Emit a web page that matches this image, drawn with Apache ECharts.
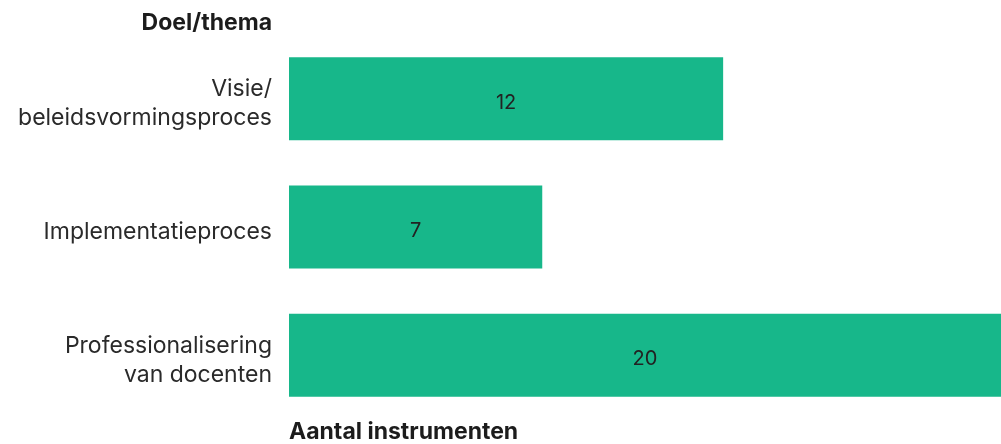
<!DOCTYPE html>
<html><head><meta charset="utf-8">
<script src="https://cdn.jsdelivr.net/npm/echarts@6/dist/echarts.min.js"></script>
<style>html,body{margin:0;padding:0;background:#fff}#c{width:1001px;height:444px}</style>
</head><body><div id="c"></div>
<script>
const categories = ["Visie/\nbeleidsvormingsproces", "Implementatieproces", "Professionalisering\nvan docenten"];
const values = [12, 7, 20];
const yTitle = "Doel/thema";
const xTitle = "Aantal instrumenten";

const FONT = 'Inter';
const chart = echarts.init(document.getElementById('c'));
chart.setOption({
  animation: false,
  textStyle: { fontFamily: FONT },
  grid: { left: 289, right: 0, top: 34.5, bottom: 24.5, containLabel: false },
  xAxis: {
    type: 'value', min: 0, max: 19.68,
    axisLine: { show: false }, axisTick: { show: false },
    axisLabel: { show: false }, splitLine: { show: false }
  },
  yAxis: {
    type: 'category', inverse: true, data: categories,
    axisLine: { show: false }, axisTick: { show: false },
    axisLabel: {
      margin: 17, align: 'right',
      formatter: v => '{s| }\n' + v.split('\n').map(l => '{a|' + l + '}').join('\n'),
      rich: {
        s: { fontSize: 1, lineHeight: 10 },
        a: { color: '#2a2a2a', fontSize: 23, lineHeight: 29, fontFamily: FONT, align: 'right' }
      }
    }
  },
  graphic: [
    { type: 'text', right: 729, top: 12, style: { text: yTitle, font: 'bold 23px ' + FONT, fill: '#1c1c1c', textAlign: 'right' } },
    { type: 'text', left: 289, top: 421, style: { text: xTitle, font: 'bold 23px ' + FONT, fill: '#1c1c1c' } }
  ],
  series: [{
    type: 'bar', data: values, barWidth: 83,
    itemStyle: { color: '#17b78a' },
    label: { show: true, position: 'inside', color: '#222', fontSize: 20, fontFamily: FONT, offset: [0, 4] }
  }]
});
</script></body></html>
